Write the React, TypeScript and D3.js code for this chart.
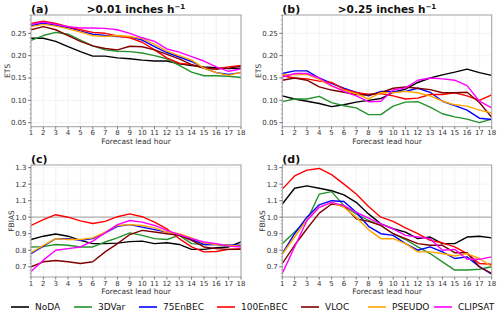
import React from "react";
import * as d3 from "d3";

// lead hours 1..18
const hours = [1, 2, 3, 4, 5, 6, 7, 8, 9, 10, 11, 12, 13, 14, 15, 16, 17, 18];

const seriesNames = ["NoDA", "3DVar", "75EnBEC", "100EnBEC", "VLOC", "PSEUDO", "CLIPSAT"];
const seriesColors = ["#000000", "#24922b", "#0000ff", "#ff0000", "#800000", "#ffa500", "#ff00ff"];

// (a) ETS > 0.01 in/h
const etsLow = [
  [0.239, 0.239, 0.232, 0.22, 0.209, 0.199, 0.199, 0.195, 0.193, 0.19, 0.188, 0.188, 0.182, 0.178, 0.175, 0.173, 0.171, 0.172],
  [0.234, 0.245, 0.252, 0.248, 0.235, 0.222, 0.213, 0.21, 0.209, 0.206, 0.2, 0.193, 0.178, 0.163, 0.155, 0.155, 0.154, 0.151],
  [0.267, 0.273, 0.268, 0.263, 0.255, 0.248, 0.245, 0.243, 0.242, 0.235, 0.22, 0.207, 0.197, 0.187, 0.172, 0.162, 0.158, 0.162],
  [0.272, 0.277, 0.272, 0.265, 0.258, 0.252, 0.25, 0.244, 0.24, 0.23, 0.213, 0.195, 0.183, 0.18, 0.172, 0.17, 0.175, 0.178],
  [0.258, 0.265, 0.258, 0.245, 0.232, 0.222, 0.216, 0.213, 0.221, 0.22, 0.213, 0.203, 0.193, 0.18, 0.172, 0.17, 0.172, 0.176],
  [0.265, 0.27, 0.266, 0.26, 0.253, 0.245, 0.243, 0.245, 0.243, 0.238, 0.225, 0.21, 0.2, 0.19, 0.172, 0.162, 0.156, 0.163],
  [0.27, 0.275, 0.27, 0.265, 0.262, 0.262, 0.261, 0.258, 0.25, 0.24, 0.232, 0.215, 0.208, 0.198, 0.188, 0.175, 0.165, 0.17],
];

// (b) ETS > 0.25 in/h
const etsHigh = [
  [0.11, 0.103, 0.098, 0.093, 0.086, 0.09, 0.096, 0.1, 0.104, 0.118, 0.125, 0.14, 0.15, 0.157, 0.163, 0.17, 0.162, 0.156],
  [0.097, 0.103, 0.103, 0.109, 0.095, 0.088, 0.083, 0.068, 0.068, 0.087, 0.096, 0.097, 0.085, 0.07, 0.063, 0.058, 0.05, 0.058],
  [0.16, 0.166, 0.166, 0.15, 0.138, 0.127, 0.118, 0.11, 0.12, 0.12, 0.12, 0.127, 0.118, 0.098, 0.088, 0.078, 0.06, 0.057],
  [0.155, 0.15, 0.148, 0.143, 0.14, 0.125, 0.117, 0.114, 0.115, 0.11, 0.103, 0.105, 0.113, 0.113, 0.117, 0.11, 0.1, 0.112],
  [0.145, 0.15, 0.145, 0.13, 0.123, 0.118, 0.113, 0.112, 0.117, 0.127, 0.13, 0.127, 0.124, 0.117, 0.117, 0.118, 0.095, 0.062],
  [0.158, 0.157, 0.158, 0.147, 0.132, 0.122, 0.115, 0.103, 0.117, 0.117, 0.12, 0.117, 0.11, 0.098, 0.09, 0.087, 0.078, 0.072],
  [0.152, 0.16, 0.16, 0.15, 0.133, 0.12, 0.11, 0.097, 0.098, 0.123, 0.128, 0.145, 0.15, 0.148, 0.145, 0.133, 0.098, 0.083],
];

// (c) FBIAS > 0.01 in/h
const fbiasLow = [
  [0.865, 0.885, 0.898, 0.885, 0.86, 0.84, 0.84, 0.843, 0.852, 0.855, 0.84, 0.845, 0.835, 0.805, 0.805, 0.815, 0.82, 0.85],
  [0.82, 0.822, 0.835, 0.83, 0.82, 0.82, 0.85, 0.875, 0.905, 0.89, 0.87, 0.865, 0.89, 0.84, 0.835, 0.835, 0.825, 0.825],
  [0.78, 0.825, 0.87, 0.87, 0.86, 0.87, 0.905, 0.945, 0.955, 0.94, 0.925, 0.91, 0.895, 0.865, 0.835, 0.835, 0.832, 0.83],
  [0.95, 0.985, 1.015, 1.0, 0.978, 0.962, 0.975, 1.003, 1.02, 1.003, 0.97, 0.93, 0.87, 0.82, 0.79, 0.792, 0.805, 0.81],
  [0.7, 0.73, 0.738, 0.73, 0.72, 0.73, 0.79, 0.84, 0.895, 0.92, 0.91, 0.9, 0.89, 0.86, 0.82, 0.81, 0.805, 0.805],
  [0.785, 0.83, 0.87, 0.865, 0.865, 0.875, 0.91, 0.95, 0.955, 0.95, 0.935, 0.91, 0.9, 0.875, 0.845, 0.835, 0.83, 0.825],
  [0.672, 0.74, 0.8, 0.81, 0.82, 0.855, 0.905, 0.955, 0.98, 0.97, 0.95, 0.92, 0.895, 0.87, 0.85, 0.84, 0.825, 0.82],
];

// (d) FBIAS > 0.25 in/h
const fbiasHigh = [
  [1.08, 1.175, 1.19, 1.175, 1.16, 1.135, 1.09, 1.02, 0.96, 0.93, 0.91, 0.87, 0.88, 0.84, 0.84, 0.88, 0.885, 0.875],
  [0.84, 0.91, 0.98, 1.14, 1.155, 1.07, 1.02, 0.98, 0.95, 0.9, 0.865, 0.82, 0.78, 0.73, 0.68, 0.68, 0.685, 0.7],
  [0.78, 0.9, 1.0, 1.075, 1.1, 1.095, 1.03, 0.945, 0.9, 0.89, 0.84, 0.8, 0.82, 0.79, 0.75, 0.76, 0.7, 0.655],
  [1.17, 1.25, 1.285, 1.295, 1.258, 1.2, 1.14, 1.065, 1.0, 0.975, 0.935, 0.9, 0.86, 0.845, 0.82, 0.78, 0.72, 0.715],
  [0.72, 0.83, 0.93, 1.025, 1.08, 1.07, 0.99, 0.975, 0.95, 0.9, 0.87, 0.84, 0.83, 0.83, 0.785, 0.785, 0.7, 0.66],
  [0.775, 0.88, 0.985, 1.06, 1.09, 1.06, 1.0, 0.925, 0.87, 0.87, 0.84, 0.79, 0.79, 0.78, 0.765, 0.78, 0.75, 0.7],
  [0.66, 0.82, 0.98, 1.06, 1.09, 1.07, 1.03, 0.995, 0.96, 0.93, 0.89, 0.88, 0.87, 0.8, 0.805, 0.745, 0.745, 0.76],
];

const etsTicks = [0.05, 0.1, 0.15, 0.2, 0.25];
const fbiasTicks = [0.7, 0.8, 0.9, 1.0, 1.1, 1.2, 1.3];

const font = "DejaVu Sans, sans-serif";

type PanelProps = {
  left: number;
  right: number;
  top: number;
  bottom: number;
  data: number[][];
  domain: [number, number];
  ticks: number[];
  minorStep: number;
  fmt: string;
  label: string;
  letter: string;
  title?: React.ReactNode;
  refLine?: number;
  labelX: number;
};

function Panel(p: PanelProps) {
  const x = d3.scaleLinear().domain([1, 18]).range([p.left, p.right]);
  const y = d3.scaleLinear().domain(p.domain).range([p.bottom, p.top]);
  const line = d3
    .line<number>()
    .x((_, i) => x(hours[i]))
    .y((d) => y(d));
  const format = d3.format(p.fmt);
  const minor = d3.range(Math.ceil(p.domain[0] / p.minorStep), Math.floor(p.domain[1] / p.minorStep) + 1).map((k) => k * p.minorStep);

  return (
    <g>
      <defs>
        <clipPath id={"clip" + p.letter}>
          <rect x={p.left} y={p.top} width={p.right - p.left} height={p.bottom - p.top} />
        </clipPath>
      </defs>
      {/* faint grid */}
      {hours.map((h) => (
        <line key={"gx" + h} x1={x(h)} x2={x(h)} y1={p.top} y2={p.bottom} stroke="#f0f0f0" strokeWidth={0.8} />
      ))}
      {p.ticks.map((t) => (
        <line key={"gy" + t} x1={p.left} x2={p.right} y1={y(t)} y2={y(t)} stroke="#f0f0f0" strokeWidth={0.8} />
      ))}
      {p.refLine !== undefined && (
        <line x1={p.left} x2={p.right} y1={y(p.refLine)} y2={y(p.refLine)} stroke="#b0b0b0" strokeWidth={1.2} />
      )}
      <g clipPath={`url(#clip${p.letter})`}>
        {p.data.map((s, i) => (
          <path key={i} d={line(s) || ""} fill="none" stroke={seriesColors[i]} strokeWidth={1.4} strokeLinejoin="round" />
        ))}
      </g>
      <rect x={p.left} y={p.top} width={p.right - p.left} height={p.bottom - p.top} fill="none" stroke="#a0a0a0" strokeWidth={1} />
      {/* y axis */}
      {minor.map((t) => (
        <line key={"m" + t} x1={p.left - 1.5} x2={p.left} y1={y(t)} y2={y(t)} stroke="#808080" strokeWidth={0.6} />
      ))}
      {p.ticks.map((t) => (
        <g key={"yt" + t}>
          <line x1={p.left - 3} x2={p.left} y1={y(t)} y2={y(t)} stroke="#606060" strokeWidth={0.8} />
          <text x={p.left - 4.5} y={y(t)} dy="0.35em" textAnchor="end" fontSize={7} fill="#333" fontFamily={font}>
            {format(t)}
          </text>
        </g>
      ))}
      {/* x axis */}
      {hours.map((h) => (
        <g key={"xt" + h}>
          <line x1={x(h)} x2={x(h)} y1={p.bottom} y2={p.bottom + 2.5} stroke="#606060" strokeWidth={0.8} />
          <text x={x(h)} y={p.bottom + 8.5} textAnchor="middle" fontSize={7} fill="#333" fontFamily={font}>
            {h}
          </text>
        </g>
      ))}
      <text x={(p.left + p.right) / 2} y={p.bottom + 17} textAnchor="middle" fontSize={7.5} fill="#333" fontFamily={font}>
        Forecast lead hour
      </text>
      <text
        transform={`translate(${p.labelX},${(p.top + p.bottom) / 2}) rotate(-90)`}
        textAnchor="middle"
        dy="0.35em"
        fontSize={7.5}
        fill="#333"
        fontFamily={font}
      >
        {p.label}
      </text>
      <text x={p.left} y={p.top - 2} fontSize={11} fontWeight="bold" fill="#111" fontFamily={font}>
        ({p.letter})
      </text>
      {p.title && (
        <text x={(p.left + p.right) / 2} y={p.top - 2} textAnchor="middle" fontSize={10.5} fontWeight="bold" fill="#111" fontFamily={font}>
          {p.title}
        </text>
      )}
    </g>
  );
}

function Title({ v }: { v: string }) {
  return (
    <>
      {">" + v + " inches h"}
      <tspan fontSize={7} dy={-4}>
        −1
      </tspan>
    </>
  );
}

export default function App() {
  const etsDomain: [number, number] = [0.041, 0.291];
  const fbDomain: [number, number] = [0.638, 1.316];
  const legendX = [11, 74, 139, 217, 301, 368, 434];

  return (
    <svg width={500} height={315} style={{ position: "absolute", left: 0, top: 0, background: "#fff" }}>
      <Panel left={31} right={241} top={15} bottom={126.7} data={etsLow} domain={etsDomain} ticks={etsTicks} minorStep={0.01} fmt=".2f" label="ETS" letter="a" title={<Title v="0.01" />} labelX={7} />
      <Panel left={282.3} right={491.7} top={15} bottom={126.7} data={etsHigh} domain={etsDomain} ticks={etsTicks} minorStep={0.01} fmt=".2f" label="ETS" letter="b" title={<Title v="0.25" />} labelX={258} />
      <Panel left={31} right={241} top={165} bottom={277} data={fbiasLow} domain={fbDomain} ticks={fbiasTicks} minorStep={0.02} fmt=".1f" label="FBIAS" letter="c" refLine={1.0} labelX={11} />
      <Panel left={282.3} right={491.7} top={165} bottom={277} data={fbiasHigh} domain={fbDomain} ticks={fbiasTicks} minorStep={0.02} fmt=".1f" label="FBIAS" letter="d" refLine={1.0} labelX={262} />
      {/* legend */}
      {seriesNames.map((n, i) => (
        <g key={n}>
          <line x1={legendX[i]} x2={legendX[i] + 18} y1={307} y2={307} stroke={seriesColors[i]} strokeWidth={1.6} />
          <text x={legendX[i] + 24} y={307} dy="0.35em" fontSize={9} fill="#111" fontFamily={font}>
            {n}
          </text>
        </g>
      ))}
    </svg>
  );
}
